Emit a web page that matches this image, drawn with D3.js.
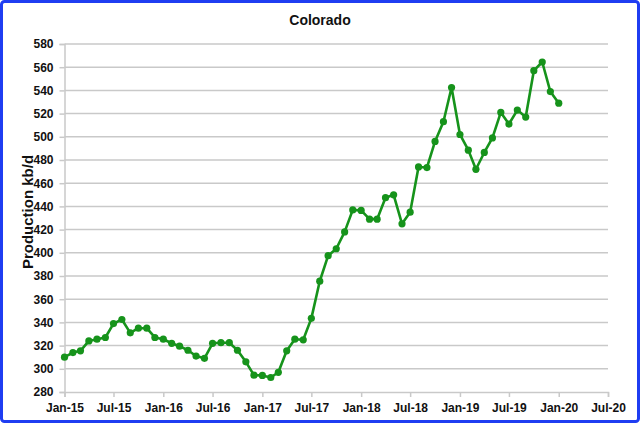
<!DOCTYPE html>
<html><head><meta charset="utf-8">
<script src="https://cdn.jsdelivr.net/npm/d3@7"></script>
<style>html,body{margin:0;padding:0;background:#fff;}svg{display:block;}</style>
</head><body>
<svg id="chart" width="640" height="423"></svg>
<script>
const title = "Colorado";
const yAxisTitle = "Production kb/d";
const startMonth = "2015-01";
const production = [310, 314, 315.5, 324, 325.5, 327, 339, 342.5, 331, 335, 335, 327,
  325.5, 322, 319.5, 316, 311, 309, 322, 322.5, 322.5, 316, 306, 294.5,
  294.3, 292.5, 297, 315.5, 325.5, 325, 343.5, 375.5, 397.5, 403.5, 418, 437,
  436.5, 429, 429, 447.5, 450, 425, 435, 474, 473.5, 496, 513, 542.5,
  502, 488.5, 472, 486.5, 499, 521, 511, 523, 517, 557, 564.5, 539,
  529];
const yTicks = [280, 300, 320, 340, 360, 380, 400, 420, 440, 460, 480, 500, 520, 540, 560, 580];
const xTickLabels = ["Jan-15","Jul-15","Jan-16","Jul-16","Jan-17","Jul-17","Jan-18","Jul-18","Jan-19","Jul-19","Jan-20","Jul-20"];

const parseM = d3.timeParse("%Y-%m");
const start = parseM(startMonth);
const dates = production.map((v, i) => d3.timeMonth.offset(start, i));
const xTickDates = xTickLabels.map((l, i) => d3.timeMonth.offset(start, i * 6));

const svg = d3.select("#chart");
const W = 640, H = 423;
const m = {left: 64.5, right: 608, top: 44, bottom: 392};

const x = d3.scaleTime().domain([xTickDates[0], xTickDates[xTickDates.length - 1]]).range([m.left, m.right]);
const y = d3.scaleLinear().domain([280, 580]).range([m.bottom, m.top]);

const font = "'Liberation Sans', Arial, sans-serif";
const gridColor = "#c9c9c9";

// gridlines
svg.append("g").selectAll("line").data(yTicks.slice(1)).join("line")
  .attr("x1", m.left).attr("x2", m.right)
  .attr("y1", d => y(d)).attr("y2", d => y(d))
  .attr("stroke", gridColor).attr("stroke-width", 1.5);

// y axis
const ya = svg.append("g").attr("transform", `translate(${m.left},0)`)
  .call(d3.axisLeft(y).tickValues(yTicks).tickSize(5).tickPadding(6));
ya.select(".domain").attr("stroke", gridColor).attr("stroke-width", 1.5);
ya.selectAll(".tick line").attr("stroke", gridColor).attr("stroke-width", 1.5);
ya.selectAll("text").attr("font-family", font).attr("font-weight", "bold").attr("font-size", 12).attr("fill", "#111");

// x axis
const xa = svg.append("g").attr("transform", `translate(0,${m.bottom})`)
  .call(d3.axisBottom(x).tickValues(xTickDates).tickFormat((d, i) => xTickLabels[i]).tickSize(5).tickPadding(6));
xa.select(".domain").attr("stroke", gridColor).attr("stroke-width", 1.5);
xa.selectAll(".tick line").attr("stroke", gridColor).attr("stroke-width", 1.5);
xa.selectAll("text").attr("font-family", font).attr("font-weight", "bold").attr("font-size", 12).attr("fill", "#111");

// line
const green = "#16931b";
svg.append("path").datum(production)
  .attr("fill", "none").attr("stroke", green).attr("stroke-width", 2.6).attr("stroke-linejoin", "round")
  .attr("d", d3.line().x((d, i) => x(dates[i])).y(d => y(d)));
svg.append("g").selectAll("circle").data(production).join("circle")
  .attr("cx", (d, i) => x(dates[i])).attr("cy", d => y(d)).attr("r", 3.6).attr("fill", green);

// titles
svg.append("text").attr("x", 320).attr("y", 25).attr("text-anchor", "middle")
  .attr("font-family", font).attr("font-weight", "bold").attr("font-size", 14).attr("fill", "#111").text(title);
svg.append("text").attr("transform", `translate(33,${(m.top + m.bottom) / 2 - 6}) rotate(-90)`)
  .attr("text-anchor", "middle").attr("font-family", font).attr("font-weight", "bold").attr("font-size", 15).attr("fill", "#111").text(yAxisTitle);

// frame
svg.append("rect").attr("x", 1.5).attr("y", 1.5).attr("width", W - 3).attr("height", H - 3)
  .attr("rx", 3).attr("fill", "none").attr("stroke", "#1f3df2").attr("stroke-width", 3);
</script>
</body></html>
